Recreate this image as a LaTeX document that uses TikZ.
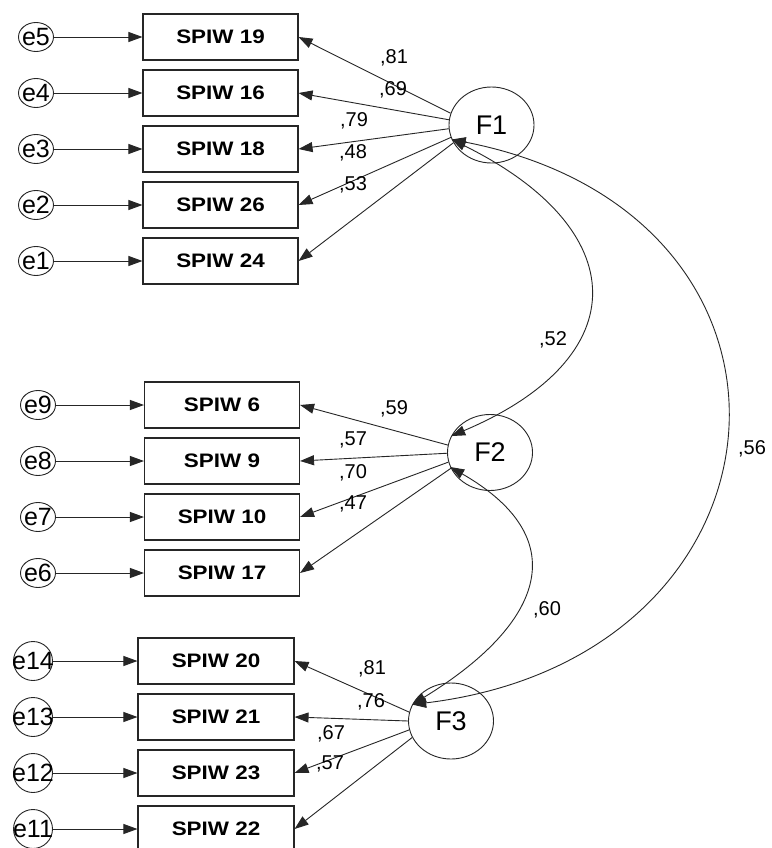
\documentclass[tikz,border=0pt]{standalone}
\usepackage{fontspec}
\setmainfont{Liberation Sans}
\usepackage{graphicx}
\usetikzlibrary{shapes.geometric,arrows.meta}
\newcommand\spiwtxt[1]{\scalebox{1.15}[1]{SPIW #1}}
\begin{document}
\begin{tikzpicture}[x=1pt,y=-1pt,
  ind/.style={draw=black!85, line width=1.1pt, minimum width=155pt, minimum height=46pt, inner sep=0pt,
    font=\fontsize{19.5}{19.5}\selectfont\bfseries},
  errc/.style={draw=black!85, ellipse, line width=0.9pt, minimum width=35pt, minimum height=29pt, inner sep=0pt},
  errcb/.style={errc, minimum width=39pt, minimum height=39pt},
  etxt/.style={inner sep=0pt, font=\fontsize{25}{25}\selectfont},
  fac/.style={draw=black!85, ellipse, line width=0.9pt, minimum width=85pt, minimum height=76pt, inner sep=0pt,
    font=\fontsize{27}{27}\selectfont},
  lab/.style={inner sep=0pt, text height=14.3pt, text depth=0pt, font=\fontsize{20}{20}\selectfont},
  arr/.style={-{Triangle[length=14pt,width=10pt]}, line width=0.9pt, draw=black!85},
  cov/.style={{Triangle[length=14pt,width=10pt]}-{Triangle[length=14pt,width=10pt]}, line width=0.9pt, draw=black!85}
]
\useasboundingbox (0,0) rectangle (771,848);
\fill[white] (0,0) rectangle (771,848);

% ---------- top group ----------
\node[fac] (F1) at (491.5,125) {F1};
\foreach \n/\y/\e in {19/37/e5,16/93/e4,18/149/e3,26/205/e2,24/261/e1}{
  \node[ind] (b\n) at (220.5,\y) {\spiwtxt{\n}};
  \node[errc] (\e) at (36,\y) {};
  \node[etxt] (\e t) at (\e) {\e};
  \draw[arr] (\e) -- (b\n.west);
}
\draw[arr] (F1.164) -- (b19.east);
\draw[arr] (F1.173) -- (b16.east);
\draw[arr] (F1.185) -- (b18.east);
\draw[arr] (F1.197) -- (b26.east);
\draw[arr] (F1.205) -- (b24.east);
\node[lab] (l19) at (394,56) {,81};
\node[lab] (l16) at (393,88) {,69};
\node[lab] (l18) at (354,119) {,79};
\node[lab] (l26) at (353,151) {,48};
\node[lab] (l24) at (353,183) {,53};

% ---------- middle group ----------
\node[fac] (F2) at (490,452.5) {F2};
\foreach \n/\y/\e in {6/405/e9,9/461/e8,10/517/e7,17/573/e6}{
  \node[ind] (b\n) at (222,\y) {\spiwtxt{\n}};
  \node[errc] (\e) at (38,\y) {};
  \node[etxt] (\e t) at (\e) {\e};
  \draw[arr] (\e) -- (b\n.west);
}
\draw[arr] (F2.170) -- (b6.east);
\draw[arr] (F2.181) -- (b9.east);
\draw[arr] (F2.193) -- (b10.east);
\draw[arr] (F2.202) -- (b17.east);
\node[lab] (l6) at (394,407) {,59};
\node[lab] (l9) at (353,438) {,57};
\node[lab] (l10) at (353,471) {,70};
\node[lab] (l17) at (353,502) {,47};

% ---------- bottom group ----------
\node[fac] (F3) at (451,721) {F3};
\foreach \n/\y/\e in {20/661/e14,21/717/e13,23/773/e12,22/829/e11}{
  \node[ind, minimum width=156pt] (b\n) at (216,\y) {\spiwtxt{\n}};
  \node[errcb] (\e) at (33,\y) {};
  \node[etxt] (\e t) at (\e) {\e};
  \draw[arr] (\e) -- (b\n.west);
}
\draw[arr] (F3.168) -- (b20.east);
\draw[arr] (F3.180) -- (b21.east);
\draw[arr] (F3.192) -- (b23.east);
\draw[arr] (F3.203) -- (b22.east);
\node[lab] (l20) at (372,667) {,81};
\node[lab] (l21) at (371,700) {,76};
\node[lab] (l23) at (331,732) {,67};
\node[lab] (l22) at (330,762) {,57};

% ---------- covariances ----------
\draw[cov] (F1.200) .. controls (633,229) and (638,357) .. (F2.157);
\draw[cov] (F2.200) .. controls (579,541) and (539,627) .. (F3.157);
\draw[cov] (F1.200) .. controls (840,215) and (806,657) .. (F3.157);
\node[lab] (c12) at (553,338) {,52};
\node[lab] (c13) at (752,447) {,56};
\node[lab] (c23) at (547,608) {,60};
\end{tikzpicture}
\end{document}
